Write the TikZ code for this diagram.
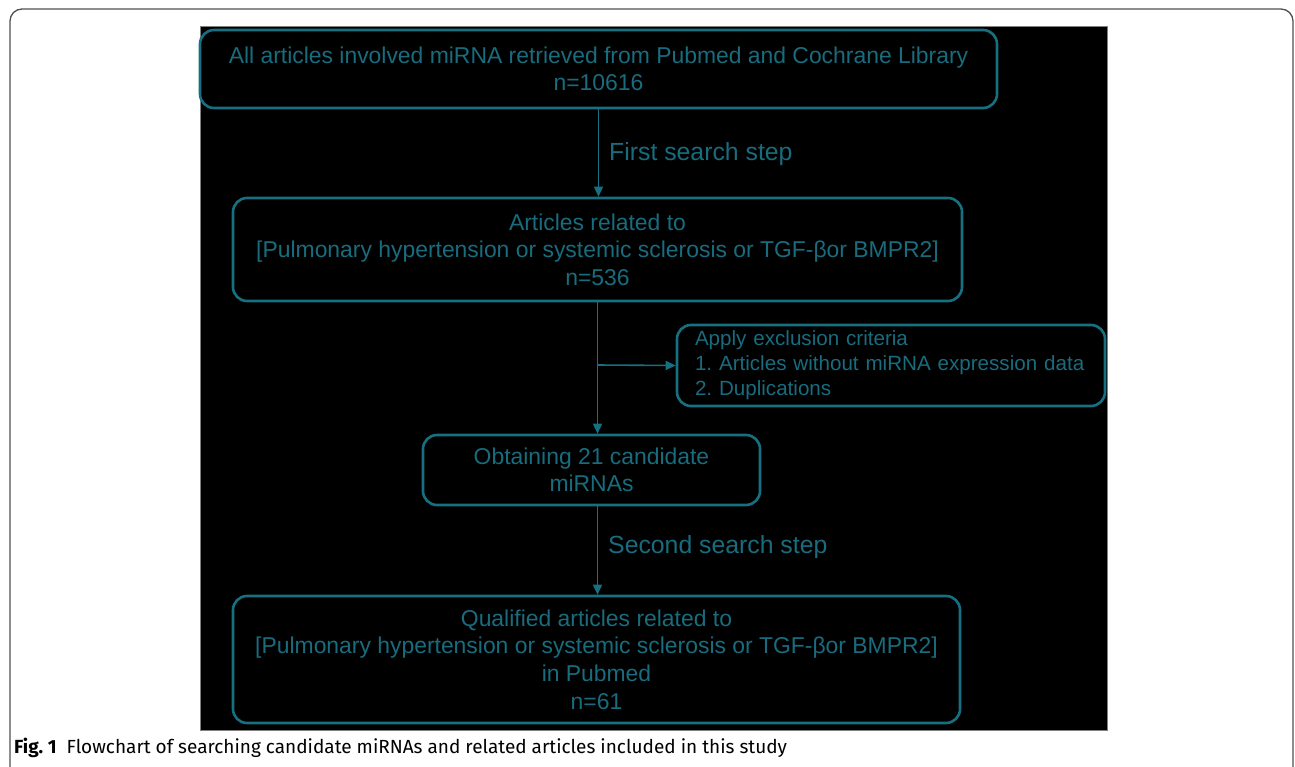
\documentclass[tikz,border=0pt]{standalone}
\usepackage{fontspec}
\setmainfont{Liberation Sans}
\newfontfamily\capfont{Fira Sans}
\usetikzlibrary{arrows.meta}
\definecolor{tealline}{RGB}{22,112,130}
\definecolor{tealtext}{RGB}{24,108,126}
\definecolor{framegray}{RGB}{80,80,80}
\frenchspacing
\tikzset{
  box/.style={draw=tealline, line width=2.6pt, rounded corners=14pt, text=tealtext,
    align=center, inner sep=0pt, font=\fontsize{22.9}{27.6}\selectfont},
  link/.style={draw=tealline, line width=1.6pt, -{Triangle[length=10pt,width=9pt]}},
  steplabel/.style={text=tealtext, anchor=west, inner sep=0pt, font=\fontsize{24.8}{28}\selectfont}
}
\begin{document}
\begin{tikzpicture}[x=1pt,y=-1pt]
	\useasboundingbox (0,0) rectangle (1295,767);
	\clip (0,0) rectangle (1295,767);
	% frame and dark panel
	\draw[framegray, line width=1.3pt, rounded corners=12pt] (10,9) rectangle (1293,800);
	\fill[black] (200,26) rectangle (1107,730);
	\draw[gray, line width=0.8pt] (200,26) rectangle (1107,730);

	\node[box, minimum width=797, minimum height=78] (all) at (598.5,69)
		{All articles involved miRNA retrieved from Pubmed and Cochrane Library\\n=10616};
	\node[box, minimum width=729, minimum height=103] (related) at (597.5,249.5)
		{Articles related to\\{}[Pulmonary hypertension or systemic sclerosis or TGF-βor BMPR2]\\n=536};
	\node[box, align=left, text width=392pt, inner xsep=18pt, minimum height=81,
		font=\fontsize{20.6}{25}\selectfont] (excl) at (891,365.5)
		{Apply exclusion criteria\\1. Articles without miRNA expression data\\2. Duplications};
	\node[box, minimum width=337, minimum height=70] (cand) at (591.5,470)
		{Obtaining 21 candidate\\miRNAs};
	\node[box, minimum width=727, minimum height=127] (qual) at (596.5,659.5)
		{Qualified articles related to\\{}[Pulmonary hypertension or systemic sclerosis or TGF-βor BMPR2]\\in Pubmed\\n=61};

	\coordinate (split) at (597,365);
	\draw[link] (all.south) -- (all.south |- related.north);
	\draw[link] (related.south) -- (related.south |- cand.north);
	\draw[link] (split) -- (excl.west);
	\draw[link] (related.south |- cand.south) -- (related.south |- qual.north);

	\node[steplabel] (first) at (609,154) {First search step};
	\node[steplabel] (second) at (608,547) {Second search step};

	% caption
	\node[anchor=west, inner sep=0pt, font=\capfont\fontsize{19}{22}\selectfont] (cap) at (14,748)
		{\textbf{Fig. 1}\hspace{10pt}Flowchart of searching candidate miRNAs and related articles included in this study};
\end{tikzpicture}
\end{document}
